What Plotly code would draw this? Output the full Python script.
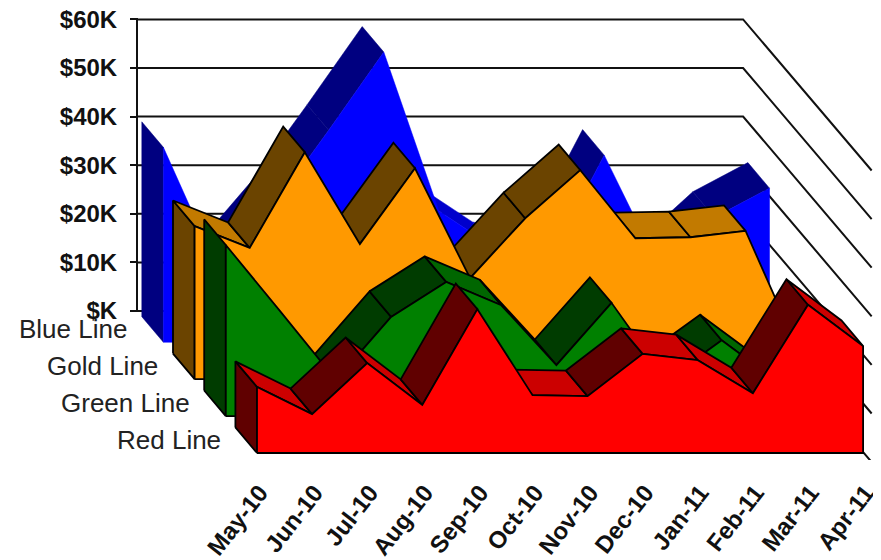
import plotly.graph_objects as go

months = ["May-10", "Jun-10", "Jul-10", "Aug-10", "Sep-10", "Oct-10",
          "Nov-10", "Dec-10", "Jan-11", "Feb-11", "Mar-11", "Apr-11"]
blue = [40.1, 14.8, 28.0, 43.6, 59.7, 27.0, 19.5, 16.9, 38.5, 15.4, 25.7, 31.7]
gold = [31.5, 27.0, 46.7, 27.8, 43.4, 20.8, 33.1, 43.0, 29.0, 29.2, 30.5, 4.9]
green = [35.2, 21.4, 7.4, 20.4, 27.6, 22.8, 10.5, 23.3, 7.4, 15.6, 7.2, 4.3]
red = [13.6, 8.0, 18.5, 9.9, 29.6, 11.9, 11.7, 20.4, 19.1, 12.3, 30.5, 22.0]
value_ticks = [0, 10, 20, 30, 40, 50, 60]
value_labels = ["$K", "$10K", "$20K", "$30K", "$40K", "$50K", "$60K"]

# Oblique projection: screen position = (month, value) shifted by depth (0 = front, 1 = back wall)
PX_MONTH, PX_K = 55.1, 4.86
SHIFT_X, SHIFT_Y = -120 / PX_MONTH, 142 / PX_K
THICK = 0.18
# The page body adds an 8 px margin, so the figure is laid out in the remaining area
ORIGIN_X, ORIGIN_Y = 249, 445
W, H = 873, 552
L, T, B = 0, 0, 100
WALL_PX = 130
FONT = "Liberation Sans, Arial, sans-serif"
# A strip falling faster than the depth direction faces away from the viewer
BACKFACE_DROP = (142 / 120) * PX_MONTH / PX_K


def proj(i, v, d):
    return i + d * SHIFT_X, v + d * SHIFT_Y


series = [
    dict(name="Blue Line", vals=blue, d=0.78, face="#0000FF", dark="#000080", light="#0000CC", line=None),
    dict(name="Gold Line", vals=gold, d=0.52, face="#FF9900", dark="#6B4400", light="#C27A00", line="#000000"),
    dict(name="Green Line", vals=green, d=0.26, face="#008000", dark="#003C00", light="#006600", line="#000000"),
    dict(name="Red Line", vals=red, d=0.0, face="#FF0000", dark="#600000", light="#CC0000", line="#000000"),
]

fig = go.Figure()


def poly(points, fill, line):
    xs = [p[0] for p in points] + [points[0][0]]
    ys = [p[1] for p in points] + [points[0][1]]
    fig.add_trace(go.Scatter(
        x=xs, y=ys, mode="lines", fill="toself", fillcolor=fill,
        line=dict(color=line or fill, width=1.8 if line else 0.5),
        hoverinfo="skip", showlegend=False, cliponaxis=False))


# Back wall and right-hand grid lines
wx, wy = [], []
for v in value_ticks:
    a = proj(0, v, 1.0)
    b = proj(11, v, 1.0)
    c = proj(11.09, v - 1.0, -0.03)
    wx += [a[0], b[0], c[0], None]
    wy += [a[1], b[1], c[1], None]
top = proj(0, value_ticks[-1], 1.0)
bottom = proj(0, value_ticks[0], 1.0)
wx += [top[0], bottom[0]]
wy += [top[1], bottom[1]]
fig.add_trace(go.Scatter(x=wx, y=wy, mode="lines", line=dict(color="#111111", width=2),
                         hoverinfo="skip", showlegend=False, cliponaxis=False))

# Series, back to front
for s in series:
    v, d, back = s["vals"], s["d"], s["d"] + THICK
    poly([proj(0, 0, back), proj(0, v[0], back), proj(0, v[0], d), proj(0, 0, d)], s["dark"], s["line"])
    for i in range(len(v) - 1):
        change = v[i + 1] - v[i]
        if change < -BACKFACE_DROP:
            continue
        colour = s["dark"] if change > 2.5 else s["light"]
        poly([proj(i, v[i], back), proj(i + 1, v[i + 1], back),
              proj(i + 1, v[i + 1], d), proj(i, v[i], d)], colour, s["line"])
    pts = [proj(0, 0, d)] + [proj(i, val, d) for i, val in enumerate(v)] + [proj(len(v) - 1, 0, d)]
    poly(pts, s["face"], s["line"])
    lx, ly = proj(-0.62, 2.7, d)
    fig.add_annotation(x=lx, y=ly, xref="x", yref="y", text=s["name"], showarrow=False,
                       xanchor="right", yanchor="middle",
                       font=dict(family=FONT, size=26, color="#222222"))

fig.update_layout(
    width=W, height=H, margin=dict(l=L, r=0, t=T, b=B, pad=0, autoexpand=False),
    paper_bgcolor="white", plot_bgcolor="white", showlegend=False,
    xaxis=dict(range=[(L - ORIGIN_X) / PX_MONTH, (W - ORIGIN_X) / PX_MONTH], showgrid=False, zeroline=False,
               showline=False, tickmode="array", tickvals=[i + 0.05 for i in range(12)],
               ticktext=[f"<b>{m}</b>" for m in months],
               tickangle=-52, ticks="outside", ticklen=8, tickcolor="rgba(0,0,0,0)",
               ticklabeloverflow="allow",
               tickfont=dict(family=FONT, size=24, color="#111111")),
    yaxis=dict(range=[(ORIGIN_Y - (H - B)) / PX_K, (ORIGIN_Y - T) / PX_K], showgrid=False, zeroline=False,
               showline=False, anchor="free", position=WALL_PX / W,
               tickmode="array", tickvals=[t + SHIFT_Y for t in value_ticks],
               ticktext=[f"<b>{t}</b>" for t in value_labels], ticks="outside", ticklen=8,
               tickcolor="#111111", tickwidth=1.8, ticklabelstandoff=8, ticklabeloverflow="allow",
               tickfont=dict(family=FONT, size=24, color="#111111")),
)
fig.write_html("out.html")
